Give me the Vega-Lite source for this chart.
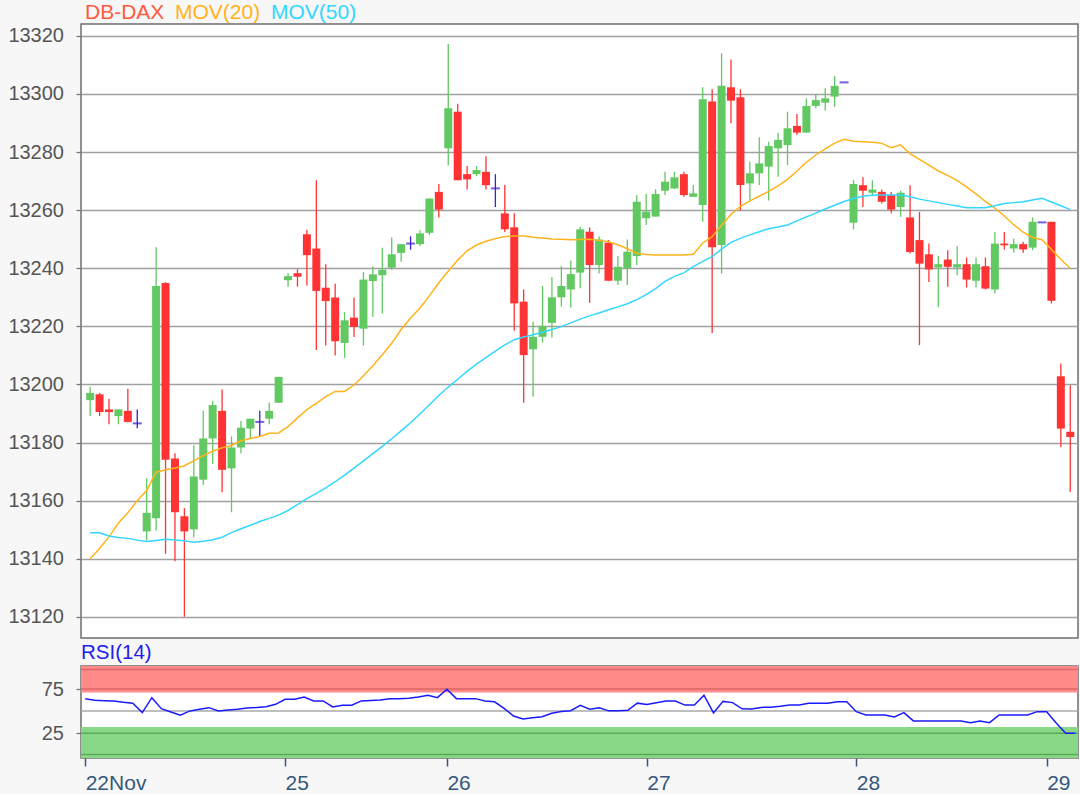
{
  "$schema": "https://vega.github.io/schema/vega-lite/v6.json",
  "background": "#f7f7f7",
  "padding": {"left": 4, "top": 2, "right": 2, "bottom": 0},
  "spacing": 2,
  "config": {
    "font": "Liberation Sans",
    "view": {"fill": "white", "stroke": "#6e6e6e", "strokeWidth": 1.5},
    "axis": {"labelFont": "Liberation Sans", "labelFontSize": 20}
  },
  "datasets": {
    "d": [
      {"i":0,"o":13194.6,"h":13199.2,"l":13189.1,"c":13197.1,"m20":13140.0,"m50":13148.9,"rsi":64.1},
      {"i":1,"o":13196.6,"h":13197.1,"l":13189.1,"c":13190.5,"m20":13143.5,"m50":13148.9,"rsi":62.2},
      {"i":2,"o":13191.4,"h":13195.1,"l":13186.3,"c":13190.5,"m20":13147.5,"m50":13147.8,"rsi":61.8},
      {"i":3,"o":13189.1,"h":13191.4,"l":13186.3,"c":13191.4,"m20":13152.3,"m50":13147.3,"rsi":61.5},
      {"i":4,"o":13190.9,"h":13198.5,"l":13186.9,"c":13187.1,"m20":13155.8,"m50":13147.0,"rsi":60.0},
      {"i":5,"o":13186.6,"h":13191.4,"l":13184.9,"c":13186.6,"m20":13160.0,"m50":13146.4,"rsi":58.8},
      {"i":6,"o":13149.4,"h":13167.7,"l":13146.3,"c":13155.8,"m20":13163.5,"m50":13145.9,"rsi":48.3},
      {"i":7,"o":13153.9,"h":13247.2,"l":13149.7,"c":13233.9,"m20":13169.8,"m50":13146.3,"rsi":65.2},
      {"i":8,"o":13234.9,"h":13235.2,"l":13141.7,"c":13174.1,"m20":13170.6,"m50":13146.7,"rsi":52.8},
      {"i":9,"o":13174.5,"h":13176.3,"l":13139.1,"c":13156.0,"m20":13171.2,"m50":13146.4,"rsi":49.0},
      {"i":10,"o":13154.6,"h":13157.4,"l":13120.0,"c":13149.4,"m20":13172.0,"m50":13146.2,"rsi":45.3},
      {"i":11,"o":13150.1,"h":13179.1,"l":13147.4,"c":13168.3,"m20":13173.7,"m50":13145.7,"rsi":50.2},
      {"i":12,"o":13167.2,"h":13190.9,"l":13165.4,"c":13181.4,"m20":13175.5,"m50":13146.0,"rsi":52.0},
      {"i":13,"o":13181.4,"h":13194.3,"l":13172.6,"c":13192.9,"m20":13177.0,"m50":13146.5,"rsi":53.9},
      {"i":14,"o":13190.9,"h":13198.3,"l":13162.9,"c":13170.6,"m20":13178.2,"m50":13147.4,"rsi":50.2},
      {"i":15,"o":13171.1,"h":13182.1,"l":13156.0,"c":13178.3,"m20":13179.0,"m50":13149.0,"rsi":51.2},
      {"i":16,"o":13178.3,"h":13187.4,"l":13176.3,"c":13185.1,"m20":13180.6,"m50":13150.3,"rsi":52.1},
      {"i":17,"o":13184.8,"h":13188.2,"l":13181.4,"c":13188.2,"m20":13181.4,"m50":13151.5,"rsi":53.5},
      {"i":18,"o":13187.1,"h":13190.9,"l":13182.1,"c":13187.1,"m20":13182.1,"m50":13152.8,"rsi":54.0},
      {"i":19,"o":13188.2,"h":13193.7,"l":13186.3,"c":13190.9,"m20":13183.2,"m50":13153.9,"rsi":55.0},
      {"i":20,"o":13193.7,"h":13202.6,"l":13193.7,"c":13202.6,"m20":13183.3,"m50":13155.0,"rsi":57.7},
      {"i":21,"o":13235.9,"h":13238.4,"l":13233.6,"c":13237.3,"m20":13185.5,"m50":13156.6,"rsi":63.4},
      {"i":22,"o":13238.3,"h":13239.7,"l":13233.7,"c":13237.1,"m20":13188.5,"m50":13158.6,"rsi":63.4},
      {"i":23,"o":13251.7,"h":13253.3,"l":13234.1,"c":13244.5,"m20":13191.3,"m50":13160.7,"rsi":66.0},
      {"i":24,"o":13246.8,"h":13270.3,"l":13211.9,"c":13232.2,"m20":13193.5,"m50":13162.5,"rsi":61.5},
      {"i":25,"o":13233.3,"h":13241.4,"l":13213.4,"c":13228.7,"m20":13195.8,"m50":13164.4,"rsi":61.5},
      {"i":26,"o":13229.9,"h":13234.7,"l":13210.0,"c":13214.9,"m20":13197.6,"m50":13166.5,"rsi":54.7},
      {"i":27,"o":13214.3,"h":13224.9,"l":13209.2,"c":13222.1,"m20":13197.6,"m50":13168.8,"rsi":56.6},
      {"i":28,"o":13223.0,"h":13229.9,"l":13216.3,"c":13219.8,"m20":13199.8,"m50":13171.2,"rsi":56.6},
      {"i":29,"o":13219.2,"h":13238.7,"l":13213.4,"c":13236.1,"m20":13203.0,"m50":13173.7,"rsi":61.5},
      {"i":30,"o":13235.6,"h":13240.7,"l":13223.2,"c":13237.9,"m20":13206.4,"m50":13176.2,"rsi":62.0},
      {"i":31,"o":13237.6,"h":13247.1,"l":13224.4,"c":13239.5,"m20":13210.2,"m50":13178.7,"rsi":62.5},
      {"i":32,"o":13240.2,"h":13250.6,"l":13239.5,"c":13244.8,"m20":13214.2,"m50":13181.3,"rsi":64.1},
      {"i":33,"o":13245.3,"h":13248.3,"l":13242.2,"c":13248.3,"m20":13218.9,"m50":13184.0,"rsi":64.1},
      {"i":34,"o":13248.5,"h":13251.0,"l":13246.4,"c":13248.5,"m20":13222.9,"m50":13186.8,"rsi":64.5},
      {"i":35,"o":13248.3,"h":13253.1,"l":13247.6,"c":13252.0,"m20":13226.3,"m50":13189.8,"rsi":66.0},
      {"i":36,"o":13252.2,"h":13264.0,"l":13251.4,"c":13264.0,"m20":13230.5,"m50":13193.0,"rsi":67.9},
      {"i":37,"o":13266.3,"h":13269.0,"l":13257.5,"c":13260.2,"m20":13235.0,"m50":13196.2,"rsi":65.2},
      {"i":38,"o":13281.3,"h":13317.2,"l":13275.5,"c":13295.1,"m20":13239.0,"m50":13199.1,"rsi":74.7},
      {"i":39,"o":13293.9,"h":13296.6,"l":13270.3,"c":13270.3,"m20":13242.8,"m50":13201.8,"rsi":64.1},
      {"i":40,"o":13272.4,"h":13275.2,"l":13267.1,"c":13270.6,"m20":13246.0,"m50":13204.5,"rsi":64.1},
      {"i":41,"o":13272.4,"h":13275.2,"l":13271.7,"c":13273.8,"m20":13248.0,"m50":13207.0,"rsi":64.1},
      {"i":42,"o":13273.2,"h":13278.6,"l":13267.1,"c":13268.6,"m20":13249.3,"m50":13209.2,"rsi":61.5},
      {"i":43,"o":13267.5,"h":13272.4,"l":13261.1,"c":13267.5,"m20":13250.2,"m50":13211.5,"rsi":60.5},
      {"i":44,"o":13258.9,"h":13268.7,"l":13252.5,"c":13253.4,"m20":13250.9,"m50":13213.6,"rsi":53.0},
      {"i":45,"o":13254.1,"h":13258.9,"l":13218.5,"c":13227.9,"m20":13251.1,"m50":13215.4,"rsi":44.5},
      {"i":46,"o":13228.5,"h":13232.7,"l":13193.7,"c":13210.1,"m20":13251.1,"m50":13216.3,"rsi":41.2},
      {"i":47,"o":13212.1,"h":13221.6,"l":13195.8,"c":13216.4,"m20":13250.7,"m50":13217.1,"rsi":42.5},
      {"i":48,"o":13216.4,"h":13233.9,"l":13214.4,"c":13220.1,"m20":13250.4,"m50":13218.0,"rsi":43.7},
      {"i":49,"o":13221.2,"h":13236.9,"l":13216.2,"c":13230.0,"m20":13250.1,"m50":13218.9,"rsi":47.6},
      {"i":50,"o":13230.0,"h":13240.8,"l":13226.8,"c":13233.9,"m20":13250.0,"m50":13219.9,"rsi":49.5},
      {"i":51,"o":13232.7,"h":13242.6,"l":13226.5,"c":13238.0,"m20":13249.8,"m50":13221.2,"rsi":50.5},
      {"i":52,"o":13238.5,"h":13254.3,"l":13233.1,"c":13253.4,"m20":13249.9,"m50":13222.5,"rsi":56.6},
      {"i":53,"o":13252.6,"h":13254.1,"l":13228.1,"c":13241.1,"m20":13250.0,"m50":13223.6,"rsi":52.1},
      {"i":54,"o":13241.1,"h":13250.9,"l":13238.2,"c":13249.9,"m20":13249.6,"m50":13224.6,"rsi":53.9},
      {"i":55,"o":13248.8,"h":13249.7,"l":13235.7,"c":13235.7,"m20":13249.1,"m50":13225.7,"rsi":50.3},
      {"i":56,"o":13235.7,"h":13244.2,"l":13234.2,"c":13240.5,"m20":13248.1,"m50":13226.7,"rsi":50.3},
      {"i":57,"o":13240.0,"h":13249.9,"l":13234.2,"c":13245.7,"m20":13246.7,"m50":13227.8,"rsi":51.0},
      {"i":58,"o":13244.2,"h":13265.2,"l":13241.1,"c":13262.9,"m20":13245.2,"m50":13229.2,"rsi":59.0},
      {"i":59,"o":13257.2,"h":13265.6,"l":13254.9,"c":13259.5,"m20":13244.7,"m50":13230.9,"rsi":57.5},
      {"i":60,"o":13257.8,"h":13267.2,"l":13257.8,"c":13265.6,"m20":13244.6,"m50":13233.0,"rsi":59.5},
      {"i":61,"o":13266.7,"h":13273.2,"l":13265.2,"c":13269.8,"m20":13244.6,"m50":13235.5,"rsi":61.5},
      {"i":62,"o":13267.5,"h":13273.2,"l":13267.2,"c":13271.3,"m20":13244.6,"m50":13237.2,"rsi":61.5},
      {"i":63,"o":13272.4,"h":13273.2,"l":13264.6,"c":13265.2,"m20":13244.6,"m50":13238.4,"rsi":56.8},
      {"i":64,"o":13264.6,"h":13268.7,"l":13264.6,"c":13265.8,"m20":13244.8,"m50":13240.6,"rsi":56.8},
      {"i":65,"o":13261.8,"h":13302.3,"l":13256.0,"c":13298.2,"m20":13248.7,"m50":13242.4,"rsi":68.0},
      {"i":66,"o":13297.4,"h":13301.6,"l":13217.6,"c":13247.2,"m20":13250.9,"m50":13244.0,"rsi":48.0},
      {"i":67,"o":13248.0,"h":13314.0,"l":13238.2,"c":13302.8,"m20":13254.8,"m50":13246.6,"rsi":61.0},
      {"i":68,"o":13302.3,"h":13311.9,"l":13289.9,"c":13297.7,"m20":13258.5,"m50":13248.9,"rsi":59.6},
      {"i":69,"o":13298.9,"h":13301.6,"l":13260.0,"c":13268.7,"m20":13261.3,"m50":13250.3,"rsi":52.6},
      {"i":70,"o":13269.2,"h":13276.7,"l":13262.9,"c":13272.7,"m20":13263.2,"m50":13251.5,"rsi":52.3},
      {"i":71,"o":13272.7,"h":13285.1,"l":13268.7,"c":13276.1,"m20":13264.8,"m50":13252.6,"rsi":54.2},
      {"i":72,"o":13275.0,"h":13283.6,"l":13263.3,"c":13282.1,"m20":13266.5,"m50":13253.6,"rsi":54.5},
      {"i":73,"o":13281.3,"h":13286.7,"l":13271.5,"c":13284.2,"m20":13268.4,"m50":13254.2,"rsi":55.5},
      {"i":74,"o":13282.4,"h":13293.9,"l":13275.5,"c":13288.2,"m20":13270.6,"m50":13254.9,"rsi":56.9},
      {"i":75,"o":13289.0,"h":13293.1,"l":13285.9,"c":13286.7,"m20":13273.5,"m50":13256.3,"rsi":56.9},
      {"i":76,"o":13286.7,"h":13298.5,"l":13286.7,"c":13295.9,"m20":13276.5,"m50":13257.7,"rsi":58.8},
      {"i":77,"o":13295.9,"h":13300.0,"l":13295.1,"c":13297.9,"m20":13279.0,"m50":13259.0,"rsi":58.8},
      {"i":78,"o":13297.0,"h":13302.0,"l":13294.3,"c":13298.5,"m20":13281.1,"m50":13260.4,"rsi":58.8},
      {"i":79,"o":13299.1,"h":13306.2,"l":13295.6,"c":13302.8,"m20":13283.1,"m50":13261.7,"rsi":60.7},
      {"i":80,"o":13304.0,"h":13304.0,"l":13304.0,"c":13304.0,"m20":13284.4,"m50":13263.0,"rsi":60.7},
      {"i":81,"o":13255.7,"h":13270.4,"l":13253.4,"c":13269.0,"m20":13283.7,"m50":13264.0,"rsi":49.4},
      {"i":82,"o":13268.6,"h":13271.3,"l":13261.1,"c":13266.7,"m20":13283.6,"m50":13264.8,"rsi":45.7},
      {"i":83,"o":13266.0,"h":13270.3,"l":13264.8,"c":13267.1,"m20":13283.4,"m50":13265.1,"rsi":45.7},
      {"i":84,"o":13266.3,"h":13267.1,"l":13262.3,"c":13262.9,"m20":13283.0,"m50":13265.2,"rsi":45.7},
      {"i":85,"o":13265.2,"h":13266.3,"l":13258.9,"c":13260.2,"m20":13281.5,"m50":13265.2,"rsi":43.4},
      {"i":86,"o":13261.1,"h":13266.7,"l":13257.7,"c":13266.0,"m20":13282.5,"m50":13265.2,"rsi":48.3},
      {"i":87,"o":13257.5,"h":13268.6,"l":13245.1,"c":13245.6,"m20":13279.5,"m50":13264.6,"rsi":38.9},
      {"i":88,"o":13249.7,"h":13259.4,"l":13213.5,"c":13241.6,"m20":13277.5,"m50":13263.8,"rsi":38.9},
      {"i":89,"o":13244.8,"h":13248.5,"l":13235.3,"c":13239.6,"m20":13275.5,"m50":13263.2,"rsi":38.9},
      {"i":90,"o":13240.3,"h":13244.2,"l":13226.7,"c":13241.4,"m20":13273.5,"m50":13262.6,"rsi":38.9},
      {"i":91,"o":13243.0,"h":13246.2,"l":13233.6,"c":13240.5,"m20":13272.0,"m50":13262.0,"rsi":38.9},
      {"i":92,"o":13240.3,"h":13247.6,"l":13237.6,"c":13241.4,"m20":13270.2,"m50":13261.4,"rsi":38.9},
      {"i":93,"o":13241.4,"h":13243.7,"l":13233.4,"c":13236.1,"m20":13268.0,"m50":13260.8,"rsi":37.0},
      {"i":94,"o":13235.7,"h":13243.7,"l":13233.4,"c":13241.4,"m20":13265.6,"m50":13260.8,"rsi":38.9},
      {"i":95,"o":13240.7,"h":13243.7,"l":13232.7,"c":13233.0,"m20":13263.0,"m50":13260.8,"rsi":37.0},
      {"i":96,"o":13232.7,"h":13252.5,"l":13231.3,"c":13248.5,"m20":13260.7,"m50":13261.5,"rsi":45.7},
      {"i":97,"o":13248.5,"h":13252.5,"l":13246.5,"c":13247.9,"m20":13258.0,"m50":13262.3,"rsi":45.7},
      {"i":98,"o":13246.8,"h":13250.2,"l":13245.3,"c":13248.3,"m20":13255.0,"m50":13262.6,"rsi":45.7},
      {"i":99,"o":13248.3,"h":13249.1,"l":13245.3,"c":13246.5,"m20":13252.4,"m50":13262.9,"rsi":45.7},
      {"i":100,"o":13247.1,"h":13257.5,"l":13246.2,"c":13256.0,"m20":13250.6,"m50":13263.5,"rsi":49.4},
      {"i":101,"o":13255.8,"h":13255.8,"l":13255.8,"c":13255.8,"m20":13249.8,"m50":13264.1,"rsi":49.4},
      {"i":102,"o":13256.0,"h":13256.0,"l":13227.9,"c":13228.8,"m20":13246.5,"m50":13262.8,"rsi":36.5},
      {"i":103,"o":13202.8,"h":13207.2,"l":13178.5,"c":13184.8,"m20":13243.0,"m50":13261.5,"rsi":25.0},
      {"i":104,"o":13183.7,"h":13199.7,"l":13163.0,"c":13181.9,"m20":13240.0,"m50":13260.2,"rsi":25.0}
    ]
  },
  "vconcat": [
    {
      "width": 997,
      "height": 614,
      "data": {"name": "d"},
      "encoding": {
        "x": {"field": "i", "type": "quantitative", "scale": {"domain": [-0.44, 104.29], "nice": false, "zero": false}, "axis": null}
      },
      "layer": [
        {
          "mark": {"type": "rule", "strokeWidth": 1.3},
          "encoding": {
            "y": {"field": "l", "type": "quantitative", "scale": {"domain": [13112.7, 13324.1], "nice": false, "zero": false},
                  "axis": {"title": null, "values": [13120, 13140, 13160, 13180, 13200, 13220, 13240, 13260, 13280, 13300, 13320], "format": "d", "grid": true, "gridColor": "#a0a0a0", "gridWidth": 1.4, "domain": false, "tickSize": 5, "tickColor": "#777777", "tickWidth": 1.3, "labelPadding": 12.5, "labelColor": "#555555", "labelFontSize": 20, "minExtent": 76, "maxExtent": 76}},
            "y2": {"field": "h"},
            "color": {"condition": [{"test": "datum.c > datum.o", "value": "#62c862"}, {"test": "datum.c < datum.o", "value": "#ff3333"}], "value": "#3a1fd0"}
          }
        },
        {
          "mark": {"type": "bar", "size": 8},
          "encoding": {
            "y": {"field": "o", "type": "quantitative"},
            "y2": {"field": "c"},
            "color": {"condition": [{"test": "datum.c > datum.o", "value": "#62c862"}, {"test": "datum.c < datum.o", "value": "#ff3333"}], "value": "#3a1fd0"}
          }
        },
        {
          "transform": [{"filter": "datum.o == datum.c"}],
          "mark": {"type": "tick", "orient": "horizontal", "thickness": 2, "size": 9, "color": "#3a1fd0"},
          "encoding": {"y": {"field": "c", "type": "quantitative"}}
        },
        {
          "mark": {"type": "line", "strokeWidth": 1.5},
          "encoding": {
            "y": {"field": "m20", "type": "quantitative"},
            "color": {"datum": "MOV(20)", "type": "nominal",
              "scale": {"domain": ["DB-DAX", "MOV(20)", "MOV(50)"], "range": ["#ff5a3c", "#ffb31a", "#33d6ff"]},
              "legend": {"orient": "top", "direction": "horizontal", "title": null, "symbolSize": 0, "symbolOpacity": 0, "symbolStrokeWidth": 0, "labelOffset": -17, "columnPadding": 6, "labelFontSize": 21, "labelFont": "Liberation Sans", "offset": 0, "padding": 0,
                "encode": {"labels": {"update": {"fill": {"scale": "color", "field": "value"}}}}}
            }
          }
        },
        {
          "mark": {"type": "line", "strokeWidth": 1.5},
          "encoding": {
            "y": {"field": "m50", "type": "quantitative"},
            "color": {"datum": "MOV(50)", "type": "nominal"}
          }
        }
      ]
    },
    {
      "width": 997,
      "height": 92,
      "title": {"text": "RSI(14)", "anchor": "start", "frame": "group", "color": "#2020ee", "fontSize": 20.5, "fontWeight": "normal", "font": "Liberation Sans", "offset": 3},
      "layer": [
        {
          "data": {"values": [{}]},
          "mark": {"type": "rect", "color": "#ff8a8a"},
          "encoding": {
            "y": {"datum": 71, "type": "quantitative", "scale": {"domain": [-3, 101], "nice": false, "zero": false},
                  "axis": {"title": null, "values": [25, 75], "grid": false, "domain": false, "tickSize": 5, "tickColor": "#777777", "tickWidth": 1.3, "labelPadding": 12.5, "labelColor": "#555555", "labelFontSize": 20, "minExtent": 76, "maxExtent": 76}},
            "y2": {"datum": 101}
          }
        },
        {
          "data": {"values": [{}]},
          "mark": {"type": "rect", "color": "#88d888"},
          "encoding": {"y": {"datum": -3, "type": "quantitative"}, "y2": {"datum": 32}}
        },
        {
          "data": {"values": [{"v": 97}, {"v": 75}]},
          "mark": {"type": "rule", "color": "#dd6666", "strokeWidth": 1.5},
          "encoding": {"y": {"field": "v", "type": "quantitative"}}
        },
        {
          "data": {"values": [{"v": 25}, {"v": 1}]},
          "mark": {"type": "rule", "color": "#5aaa5a", "strokeWidth": 1.5},
          "encoding": {"y": {"field": "v", "type": "quantitative"}}
        },
        {
          "data": {"values": [{"v": 50}]},
          "mark": {"type": "rule", "color": "#aaaaaa", "strokeWidth": 1.5},
          "encoding": {"y": {"field": "v", "type": "quantitative"}}
        },
        {
          "data": {"name": "d"},
          "mark": {"type": "line", "color": "#1a1aff", "strokeWidth": 1.5},
          "encoding": {
            "x": {"field": "i", "type": "quantitative", "scale": {"domain": [-0.44, 104.29], "nice": false, "zero": false},
                  "axis": {"title": null, "values": [0, 21, 38, 59, 81, 101], "labelExpr": "datum.value == 0 ? '22Nov' : datum.value == 21 ? '25' : datum.value == 38 ? '26' : datum.value == 59 ? '27' : datum.value == 81 ? '28' : '29'", "labelAlign": "left", "labelColor": "#36577a", "tickColor": "#36577a", "tickSize": 8, "tickWidth": 1.5, "labelPadding": 6, "grid": false, "domain": false, "labelFontSize": 21, "labelOverlap": false, "labelFlush": false, "labelBound": false}},
            "y": {"field": "rsi", "type": "quantitative"}
          }
        }
      ]
    }
  ]
}
